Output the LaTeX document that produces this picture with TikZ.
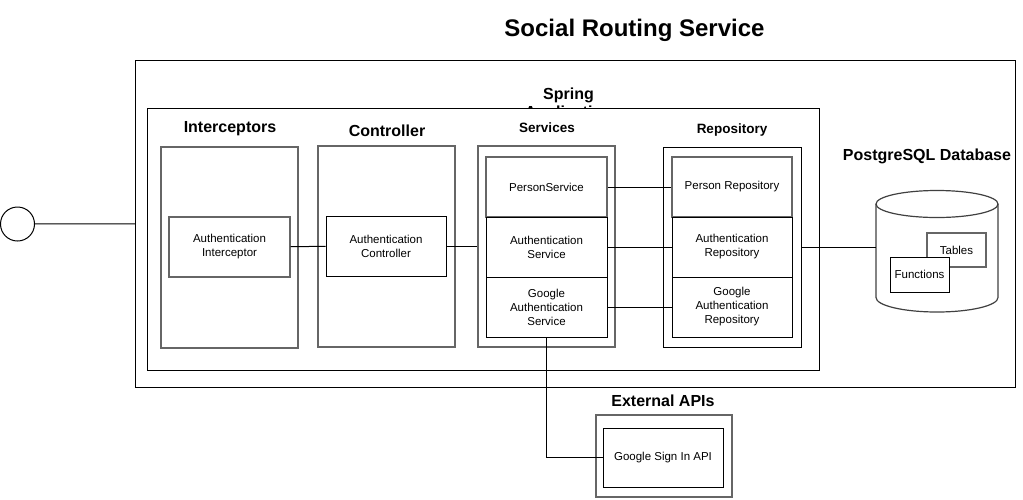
\documentclass[tikz,border=0pt]{standalone}
\usepackage{fontspec}
\setmainfont{Liberation Sans}
\usetikzlibrary{positioning}

\begin{document}
\begin{tikzpicture}[x=1pt,y=-1pt]
\tikzstyle{box}=[draw, line width=1pt, rectangle, inner sep=0pt, align=center, font=\fontsize{11.5}{14}\selectfont]
\tikzstyle{softbox}=[box, draw=black!60, line width=1.4pt]
\tikzstyle{title}=[inner sep=0pt, align=center, font=\fontsize{16}{18}\selectfont\bfseries]
\tikzstyle{subtitle}=[inner sep=0pt, font=\fontsize{13.5}{16}\selectfont\bfseries]
\tikzstyle{wire}=[line width=1pt]

\useasboundingbox (0,0) rectangle (1023,499);

\draw (634.5,30) node[inner sep=0pt, font=\fontsize{24}{26}\selectfont\bfseries] (head) {Social Routing Service};

\draw (575.5,223.75) node[box, minimum width=880pt, minimum height=326.5pt] (outer) {};
\draw (568.5,104.5) node[title] (spring) {Spring\\Application};
\draw (483,239) node[box, fill=white, minimum width=672pt, minimum height=262pt] (inner) {};

\draw (17.5,224) node[draw, circle, line width=1pt, minimum size=34pt, inner sep=0pt] (user) {};

% interceptors
\draw (230,129) node[title] (intclabel) {Interceptors};
\draw (229.5,247.5) node[softbox, minimum width=137pt, minimum height=201pt] (intcbox) {};
\draw (229.5,247) node[softbox, minimum width=121pt, minimum height=60pt] (authint) {Authentication\\Interceptor};

% controller
\draw (387,131) node[title] (ctrllabel) {Controller};
\draw (386.5,246.5) node[softbox, minimum width=137pt, minimum height=201pt] (ctrlbox) {};
\draw (386,246) node[box, minimum width=120pt, minimum height=60pt] (authctrl) {Authentication\\Controller};

% services
\draw (547,128) node[subtitle] (svclabel) {Services};
\draw (546.5,246.5) node[softbox, minimum width=137pt, minimum height=201pt] (svcbox) {};
\draw (546.5,187) node[softbox, minimum width=121pt, minimum height=60pt] (personsvc) {PersonService};
\draw (546.5,247) node[box, minimum width=121pt, minimum height=60pt] (authsvc) {Authentication\\Service};
\draw (546.5,307) node[box, minimum width=121pt, minimum height=60pt] (googlesvc) {Google\\Authentication\\Service};

% repository
\draw (732,130) node[subtitle] (repolabel) {Repository};
\draw (732,247) node[box, minimum width=138pt, minimum height=200pt] (repobox) {};
\draw (732,187) node[softbox, minimum width=120pt, minimum height=60pt] (personrepo) {Person Repository};
\draw (732,247) node[box, minimum width=120pt, minimum height=60pt] (authrepo) {Authentication\\Repository};
\draw (732,307) node[box, minimum width=120pt, minimum height=60pt] (googlerepo) {Google\\Authentication\\Repository};

% database
\draw (927,156) node[title] (dblabel) {PostgreSQL Database};
\draw (937,251) node[rectangle, inner sep=0pt, minimum width=122pt, minimum height=122pt] (db) {};
\draw[line width=1.2pt, draw=black!75] (876,204) -- (876,297.5) arc[start angle=180, end angle=0, x radius=61, y radius=14.5] -- (998,204);
\draw[line width=1.2pt, draw=black!75] (937,204) ellipse[x radius=61, y radius=13.5];
\draw (956.5,250) node[softbox, minimum width=59pt, minimum height=34pt] (tables) {Tables};
\draw (919.5,274.5) node[box, fill=white, minimum width=59pt, minimum height=35pt] (functions) {Functions};

% external
\draw (663,401) node[title] (extlabel) {External APIs};
\draw (664,456) node[softbox, minimum width=136pt, minimum height=82pt] (extbox) {};
\draw (663,457.5) node[box, minimum width=120pt, minimum height=59pt] (gsignin) {Google Sign In API};

\draw[wire] (user) -- (outer.west);
\draw[wire] (authint) -- (authctrl);
\draw[wire] (authctrl.east) -- (authctrl.east -| svcbox.west);
\draw[wire] (personsvc) -- (personrepo);
\draw[wire] (authsvc) -- (authrepo);
\draw[wire] (googlesvc) -- (googlerepo);
\draw[wire] (repobox.east) -- (repobox.east -| db.west);
\draw[wire] (googlesvc.south) |- (gsignin.west);
\end{tikzpicture}
\end{document}
